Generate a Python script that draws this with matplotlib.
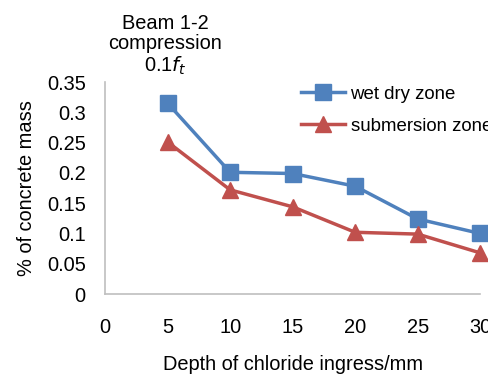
import matplotlib.pyplot as plt
import numpy as np

plt.rcParams['font.family'] = ['Liberation Sans', 'DejaVu Sans']

# %% Data
depth = [5, 10, 15, 20, 25, 30]
wet_dry = [0.315, 0.201, 0.199, 0.178, 0.124, 0.100]
submersion = [0.251, 0.172, 0.144, 0.102, 0.099, 0.068]
xticks = [0, 5, 10, 15, 20, 25, 30]
yticks = [0, 0.05, 0.1, 0.15, 0.2, 0.25, 0.3, 0.35]

FS = 14.4

# %% Plot
fig = plt.figure(figsize=(4.89, 3.78), dpi=100)
ax = fig.add_axes([0.215, 0.222, 0.767, 0.561])

ax.plot(depth, wet_dry, color='#4F81BD', lw=2.5, marker='s', ms=11,
        label='wet dry zone', clip_on=False, zorder=3)
ax.plot(depth, submersion, color='#C0504D', lw=2.5, marker='^', ms=11,
        label='submersion zone', clip_on=False, zorder=3)

ax.set_xlim(0, 30)
ax.set_ylim(0, 0.35)
ax.set_xticks(xticks)
ax.set_xticklabels([str(t) for t in xticks])
ax.set_yticks(yticks)
ax.set_yticklabels(['0', '0.05', '0.1', '0.15', '0.2', '0.25', '0.3', '0.35'])
ax.tick_params(length=0, labelsize=FS, colors='black')
ax.tick_params(axis='x', pad=17)
ax.tick_params(axis='y', pad=14)

for s in ['top', 'right']:
    ax.spines[s].set_visible(False)
for s in ['left', 'bottom']:
    ax.spines[s].set_color('#BFBFBF')
    ax.spines[s].set_linewidth(1.2)

ax.set_xlabel('Depth of chloride ingress/mm', fontsize=FS, labelpad=13)
ax.set_ylabel('% of concrete mass', fontsize=FS, labelpad=8)

fig.text(0.338, 0.795, 'Beam 1-2\ncompression\n0.1$\\mathit{f}_t$', ha='center',
         va='bottom', fontsize=FS, linespacing=1.1)

ax.legend(loc='upper left', bbox_to_anchor=(0.487, 1.045), frameon=False,
          fontsize=13.4, handlelength=2.4, handletextpad=0.27, labelspacing=0.82,
          borderaxespad=0.3)

fig.savefig('out.png', dpi=100)
